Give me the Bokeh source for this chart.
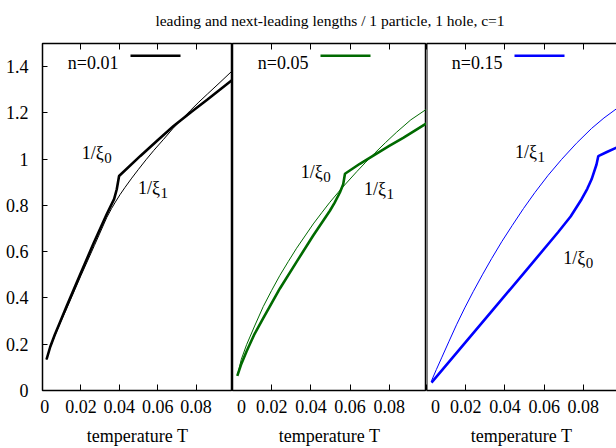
from bokeh.plotting import figure
from bokeh.layouts import row, column
from bokeh.models import (FixedTicker, CustomJSTickFormatter, CustomLabelingPolicy, LinearAxis,
                          Label, Arrow, Range1d, Span)
from bokeh.embed import file_html
from bokeh.resources import INLINE

# ---------------- data ----------------
TITLE = "leading and next-leading lengths / 1 particle, 1 hole, c=1"
X_LABEL = "temperature T"
X_TICKS = [0, 0.02, 0.04, 0.06, 0.08]
X_TICK_LABELS = ["\u00a00", "0.02", "0.04", "0.06", "0.08"]
Y_TICKS = [0, 0.2, 0.4, 0.6, 0.8, 1.0, 1.2, 1.4]
Y_TICK_LABELS = ["0", "0.2", "0.4", "0.6", "0.8", "1", "1.2", "1.4"]
SERIES = ["n=0.01", "n=0.05", "n=0.15"]
COLORS = ["#000000", "#006a00", "#0000ff"]

# n = 0.01 : leading (1/xi0) and next-leading (1/xi1)
T_XI0_A = [0.0021, 0.0040, 0.0064, 0.0095, 0.0125, 0.0195, 0.0265, 0.0335, 0.0373, 0.0387, 0.0399,
           0.051, 0.060, 0.0683, 0.0775, 0.0858, 0.099]
XI0_A = [0.134, 0.188, 0.241, 0.303, 0.363, 0.499, 0.634, 0.763, 0.827, 0.870, 0.927,
         1.014, 1.082, 1.143, 1.204, 1.257, 1.343]
T_XI1_A = [0.0021, 0.0040, 0.0064, 0.0095, 0.0125, 0.020, 0.027, 0.0335, 0.036, 0.038, 0.0405,
           0.043, 0.0465, 0.050, 0.054, 0.058, 0.063, 0.068, 0.0725, 0.077, 0.0815, 0.086, 0.0925, 0.099]
XI1_A = [0.134, 0.186, 0.236, 0.297, 0.352, 0.496, 0.626, 0.748, 0.787, 0.815, 0.848,
         0.878, 0.918, 0.956, 0.998, 1.038, 1.085, 1.133, 1.172, 1.210, 1.247, 1.282, 1.332, 1.383]

# n = 0.05
T_XI0_B = [0.00245, 0.0045, 0.0072, 0.011, 0.0157, 0.0242, 0.0327, 0.0412, 0.0497, 0.052, 0.0548,
           0.0565, 0.0574, 0.065, 0.0727, 0.080, 0.0871, 0.099]
XI0_B = [0.063, 0.115, 0.170, 0.240, 0.313, 0.441, 0.556, 0.670, 0.777, 0.810, 0.856,
         0.892, 0.937, 0.980, 1.020, 1.057, 1.092, 1.155]
T_XI1_B = [0.00245, 0.0045, 0.0072, 0.0115, 0.0157, 0.020, 0.0242, 0.0285, 0.0327, 0.037, 0.0412,
           0.0455, 0.0497, 0.0557, 0.0634, 0.068, 0.0727, 0.078, 0.0838, 0.091, 0.099]
XI1_B = [0.063, 0.135, 0.198, 0.283, 0.363, 0.433, 0.498, 0.558, 0.615, 0.668, 0.720,
         0.768, 0.814, 0.874, 0.946, 0.987, 1.027, 1.071, 1.117, 1.170, 1.216]

# n = 0.15
T_XI0_C = [0.00255, 0.0161, 0.0332, 0.0502, 0.0671, 0.0735, 0.0791, 0.082, 0.0842, 0.0867, 0.0876,
           0.092, 0.0969]
XI0_C = [0.034, 0.170, 0.342, 0.513, 0.684, 0.752, 0.827, 0.872, 0.913, 0.977, 1.013,
         1.031, 1.050]
T_XI1_C = [0.00255, 0.005, 0.0077, 0.0115, 0.0153, 0.0195, 0.0238, 0.0285, 0.0332, 0.0385, 0.0437,
           0.0495, 0.0553, 0.062, 0.0689, 0.0765, 0.0842, 0.0905, 0.0969]
XI1_C = [0.042, 0.090, 0.141, 0.213, 0.284, 0.357, 0.427, 0.500, 0.570, 0.645, 0.713,
         0.787, 0.856, 0.930, 0.999, 1.069, 1.133, 1.178, 1.218]

# curve-label anchors (T, 1/xi) per panel: [xi0, xi1]
LABEL_POS = [
    [(0.0204, 1.027), (0.0498, 0.877)],
    [(0.0348, 0.943), (0.0671, 0.872)],
    [(0.0697, 0.572), (0.0451, 1.029)],
]

FONT = "Liberation Serif"
W = 616
HEAD = 36
H = 448 - HEAD
TOP, BOTTOM = 43 - HEAD, 55


def fmt(ticks, labels):
    return CustomJSTickFormatter(
        args=dict(tvals=ticks, tlabs=labels),
        code="const i = tvals.findIndex(t => Math.abs(t - tick) < 1e-9); return i < 0 ? '' : tlabs[i];")


def make_panel(idx, frame_w, x_end, left_border, outline):
    p = figure(width=frame_w + left_border, height=H,
               x_range=Range1d(0, x_end), y_range=Range1d(0, 1.5),
               x_axis_location=None, y_axis_location=None,
               output_backend="svg", toolbar_location=None, tools="",
               min_border_left=left_border, min_border_right=0,
               min_border_top=TOP, min_border_bottom=BOTTOM)
    p.grid.grid_line_color = None
    p.background_fill_color = "white"
    p.border_fill_color = "white"
    if outline:
        p.outline_line_color = "black"
        p.outline_line_width = 1.5
        p.outline_line_alpha = 1.0
    else:
        p.outline_line_color = None

    bx = LinearAxis(ticker=FixedTicker(ticks=X_TICKS), formatter=fmt(X_TICKS, X_TICK_LABELS),
                    axis_label=X_LABEL)
    tx = LinearAxis(ticker=FixedTicker(ticks=X_TICKS),
                    major_label_policy=CustomLabelingPolicy(
                        code="for (const i of Array.from(indices)) indices.unset(i); return indices"))
    for ax in (bx, tx):
        ax.major_tick_in = 6
        ax.major_tick_out = 0
        ax.minor_tick_line_color = None
        ax.major_tick_line_color = "black"
        ax.major_tick_line_width = 1
        ax.axis_line_color = None if outline else "black"
        ax.axis_line_width = 1.5
    bx.major_label_text_font = FONT
    bx.major_label_text_font_size = "18px"
    bx.major_label_text_color = "black"
    bx.major_label_standoff = 6
    bx.axis_label_text_font = FONT
    bx.axis_label_text_font_size = "18px"
    bx.axis_label_text_font_style = "normal"
    bx.axis_label_text_color = "black"
    bx.axis_label_standoff = 6
    tx.major_label_text_font_size = "1px"
    tx.major_label_standoff = 0
    p.add_layout(bx, "below")
    p.add_layout(tx, "above")

    if idx == 0:
        ly = LinearAxis(ticker=FixedTicker(ticks=Y_TICKS), formatter=fmt(Y_TICKS, Y_TICK_LABELS))
        ly.major_tick_in = 5
        ly.major_tick_out = 0
        ly.minor_tick_line_color = None
        ly.axis_line_color = None
        ly.major_label_text_font = FONT
        ly.major_label_text_font_size = "18px"
        ly.major_label_text_color = "black"
        ly.major_label_standoff = 14
        p.add_layout(ly, "left")
    if not outline:
        p.add_layout(Span(location=0, dimension="height", line_color="black", line_width=2))
    return p


panels = [
    make_panel(0, 190, 0.099, 42, True),
    make_panel(1, 194, 0.099, 0, True),
    make_panel(2, 190, 0.0969, 0, False),
]

data = [
    (T_XI0_A, XI0_A, T_XI1_A, XI1_A),
    (T_XI0_B, XI0_B, T_XI1_B, XI1_B),
    (T_XI0_C, XI0_C, T_XI1_C, XI1_C),
]

for i, p in enumerate(panels):
    t0, y0, t1, y1 = data[i]
    c = COLORS[i]
    p.line(t1, y1, line_color=c, line_width=1)
    p.line(t0, y0, line_color=c, line_width=2.6)

    # key: text on the left, line sample on the right (gnuplot style)
    p.add_layout(Label(x=76, y=327.5, x_units="screen", y_units="screen", text=SERIES[i],
                       text_align="right", text_baseline="alphabetic",
                       text_font=FONT, text_font_size="18px", text_color="black"))
    p.add_layout(Arrow(x_start=88, y_start=334.7, x_end=138, y_end=334.7,
                       start_units="screen", end_units="screen", start=None, end=None,
                       line_color=c, line_width=2.6))

    for k, (lx, lyv) in enumerate(LABEL_POS[i]):
        p.add_layout(Label(x=lx, y=lyv, text="1/ξ", text_align="left", text_baseline="alphabetic",
                           text_font=FONT, text_font_size="18px", text_color="black"))
        p.add_layout(Label(x=lx, y=lyv, x_offset=22.5, y_offset=-5, text=str(k),
                           text_align="left", text_baseline="alphabetic",
                           text_font=FONT, text_font_size="15px", text_color="black"))

head = figure(width=W, height=HEAD, x_range=Range1d(0, W), y_range=Range1d(0, HEAD),
              x_axis_location=None, y_axis_location=None,
              output_backend="svg", toolbar_location=None, tools="",
              min_border=0)
head.grid.grid_line_color = None
head.outline_line_color = None
head.add_layout(Label(x=329.5, y=HEAD - 20, x_units="screen", y_units="screen", text=TITLE,
                      text_align="center", text_baseline="alphabetic",
                      text_font=FONT, text_font_size="15.5px", text_color="black"))

layout = column(head, row(*panels, spacing=0), spacing=0)
open("out.html", "w").write(file_html(layout, INLINE))
